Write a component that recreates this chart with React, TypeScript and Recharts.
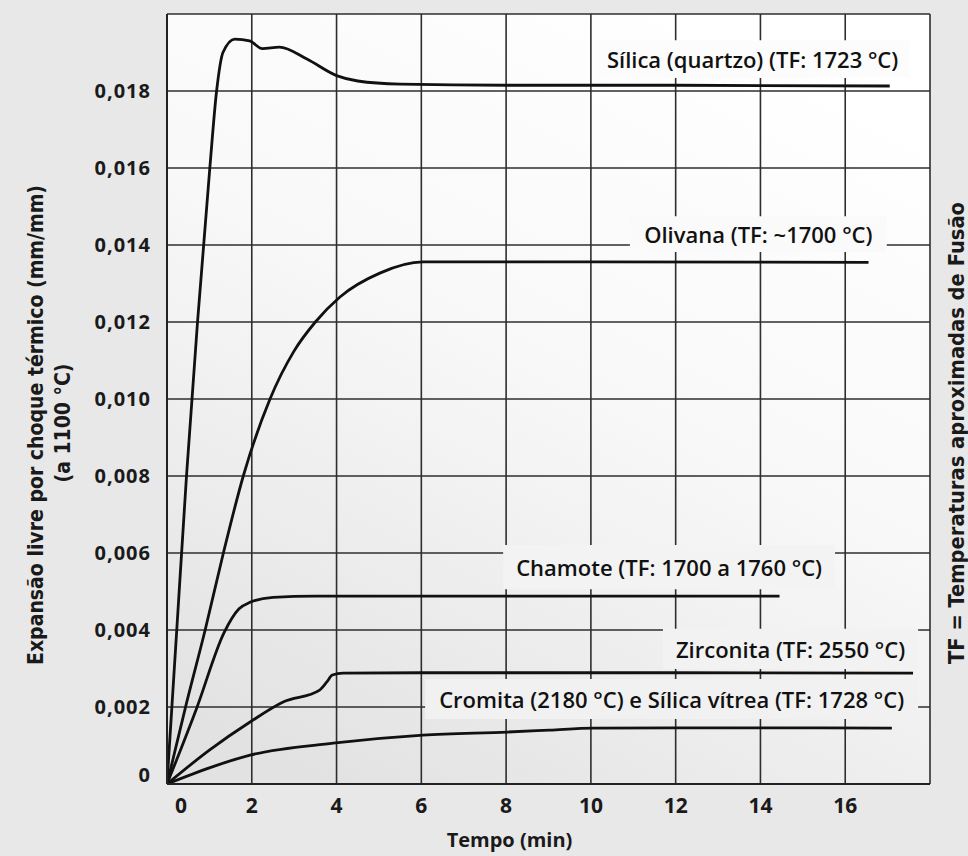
import React from "react";
import {
  CartesianGrid,
  Line,
  LineChart,
  ReferenceArea,
  XAxis,
  YAxis,
} from "recharts";

// tempo (min) / expansão (mm/mm)
const silicaX = [0, 0.23, 0.46, 0.72, 1.01, 1.17, 1.32, 1.6, 1.95, 2.25, 2.65, 3.3, 4.0, 4.5, 5.5, 8, 12, 17.05];
const silicaY = [0, 0.004, 0.008, 0.012, 0.016, 0.018, 0.019, 0.01935, 0.0193, 0.0191, 0.01914, 0.01883, 0.0184, 0.01826, 0.01818, 0.01815, 0.01815, 0.01813];

const olivanaX = [0, 0.46, 0.9, 1.33, 1.8, 2.43, 3.0, 3.5, 4.08, 5.02, 6.04, 10, 16.55];
const olivanaY = [0, 0.0021, 0.004, 0.006, 0.008, 0.01, 0.01125, 0.012, 0.01265, 0.01327, 0.01356, 0.01356, 0.01355];

const chamoteX = [0, 0.7, 1.35, 1.7, 1.96, 2.5, 3.5, 8, 14.45];
const chamoteY = [0, 0.00197, 0.00394, 0.00455, 0.00472, 0.00485, 0.00488, 0.00488, 0.00488];

const zirconitaX = [0, 1, 1.96, 2.74, 3.6, 3.77, 3.9, 4.15, 6, 12, 17.6];
const zirconitaY = [0, 0.00088, 0.00161, 0.00213, 0.00244, 0.00265, 0.00283, 0.00288, 0.00289, 0.00289, 0.00288];

const cromitaX = [0, 1, 1.96, 3.92, 6.04, 8.04, 9.03, 10.05, 13, 17.1];
const cromitaY = [0, 0.00042, 0.00075, 0.00106, 0.00127, 0.00135, 0.0014, 0.00145, 0.00146, 0.00145];

const xTicks = [0, 2, 4, 6, 8, 10, 12, 14, 16, 18];
const yTicks = [0, 0.002, 0.004, 0.006, 0.008, 0.01, 0.012, 0.014, 0.016, 0.018, 0.02];

// caixas das legendas: [x1, x2, y1, y2]
const annotations = [
  { text: "Sílica (quartzo) (TF: 1723 °C)", box: [10.1, 17.53, 0.01834, 0.01932], fill: "#fcfcfc" },
  { text: "Olivana (TF: ~1700 °C)", box: [10.92, 16.98, 0.01382, 0.01475], fill: "#fafafa" },
  { text: "Chamote (TF: 1700 a 1760 °C)", box: [7.93, 15.76, 0.00506, 0.00621], fill: "#f3f3f3" },
  { text: "Zirconita (TF: 2550 °C)", box: [11.7, 17.72, 0.00299, 0.00403], fill: "#f2f2f2" },
  { text: "Cromita (2180 °C) e Sílica vítrea (TF: 1728 °C)", box: [6.09, 17.72, 0.00169, 0.00273], fill: "#f1f1f1" },
];

const zip = (xs: number[], ys: number[]) => xs.map((x, i) => ({ x, y: ys[i] }));

const series = [
  zip(silicaX, silicaY),
  zip(olivanaX, olivanaY),
  zip(chamoteX, chamoteY),
  zip(zirconitaX, zirconitaY),
  zip(cromitaX, cromitaY),
];

const tickFont = "'Open Sans', sans-serif";

const XTick = (props: any) => {
  const { x, y, payload } = props;
  if (payload.value === 18) return <g />;
  const shift = payload.value === 0 ? 14 : 0;
  return (
    <text x={x + shift} y={y + 29} textAnchor="middle" fontFamily={tickFont} fontWeight={700} fontSize={21} fill="#1a1a1a">
      {payload.value}
    </text>
  );
};

const YTick = (props: any) => {
  const { x, y, payload } = props;
  if (payload.value >= 0.0199) return <g />;
  const label = payload.value === 0 ? "0" : payload.value.toFixed(3).replace(".", ",");
  const dy = payload.value === 0 ? -2 : 7;
  return (
    <text x={x} y={y + dy} textAnchor="end" fontFamily={tickFont} fontWeight={700} fontSize={20} letterSpacing={1} fill="#1a1a1a">
      {label}
    </text>
  );
};

const boxLabel = (text: string) => (props: any) => {
  const { viewBox } = props;
  return (
    <text
      x={viewBox.x + viewBox.width / 2}
      y={viewBox.y + viewBox.height / 2}
      textAnchor="middle"
      dominantBaseline="central"
      fontFamily={tickFont}
      fontWeight={600}
      fontSize={22}
      fill="#111"
    >
      {text}
    </text>
  );
};

export default function App() {
  return (
    <div style={{ position: "absolute", left: 0, top: 0, width: 968, height: 856, background: "#e8e8e8", overflow: "hidden" }}>
      <LineChart width={968} height={856} margin={{ top: 14, right: 38, bottom: 0, left: 0 }}>
        <defs>
          <linearGradient id="plotBg" x1="0.7" y1="0" x2="0.2" y2="1">
            <stop offset="0%" stopColor="#ffffff" />
            <stop offset="45%" stopColor="#f8f8f8" />
            <stop offset="100%" stopColor="#e2e2e2" />
          </linearGradient>
        </defs>
        <CartesianGrid stroke="#2e2e2e" strokeWidth={1.6} fill="url(#plotBg)" fillOpacity={1} />
        <XAxis
          type="number"
          dataKey="x"
          domain={[0, 18]}
          ticks={xTicks}
          allowDataOverflow
          height={72}
          tickSize={0}
          tickMargin={0}
          tick={<XTick />}
          axisLine={{ stroke: "#222", strokeWidth: 2 }}
          label={{
            value: "Tempo (min)",
            position: "insideBottom",
            offset: 9,
            dx: -39,
            style: { fontFamily: tickFont, fontWeight: 700, fontSize: 20, fill: "#1a1a1a" },
          }}
        />
        <YAxis
          type="number"
          dataKey="y"
          domain={[0, 0.02]}
          ticks={yTicks}
          allowDataOverflow
          width={167}
          tickSize={0}
          tickMargin={16}
          tick={<YTick />}
          axisLine={{ stroke: "#222", strokeWidth: 2 }}
        />
        {annotations.map((a) => (
          <ReferenceArea
            key={a.text}
            x1={a.box[0]}
            x2={a.box[1]}
            y1={a.box[2]}
            y2={a.box[3]}
            fill={a.fill}
            fillOpacity={1}
            stroke="none"
            label={boxLabel(a.text)}
          />
        ))}
        {series.map((d, i) => (
          <Line
            key={i}
            data={d}
            dataKey="y"
            type="monotone"
            stroke="#111"
            strokeWidth={2.8}
            dot={false}
            activeDot={false}
            isAnimationActive={false}
          />
        ))}
      </LineChart>
      <svg width={968} height={856} style={{ position: "absolute", left: 0, top: 0, pointerEvents: "none" }}>
        <g fontFamily="'Liberation Sans Narrow', 'DejaVu Sans Condensed', sans-serif" fill="#1a1a1a">
          <text
            transform="translate(35,425) rotate(-90)"
            textAnchor="middle"
            dominantBaseline="central"
            fontSize={22}
            fontWeight={600}
            textLength={480}
            lengthAdjust="spacingAndGlyphs"
          >
            Expansão livre por choque térmico (mm/mm)
          </text>
          <text
            transform="translate(62,423) rotate(-90)"
            textAnchor="middle"
            dominantBaseline="central"
            fontSize={22}
            fontWeight={600}
            textLength={119}
            lengthAdjust="spacingAndGlyphs"
          >
            (a 1100 °C)
          </text>
          <text
            transform="translate(956,433) rotate(-90)"
            textAnchor="middle"
            dominantBaseline="central"
            fontSize={22}
            fontWeight={600}
            textLength={462}
            lengthAdjust="spacingAndGlyphs"
          >
            TF = Temperaturas aproximadas de Fusão
          </text>
        </g>
      </svg>
    </div>
  );
}
